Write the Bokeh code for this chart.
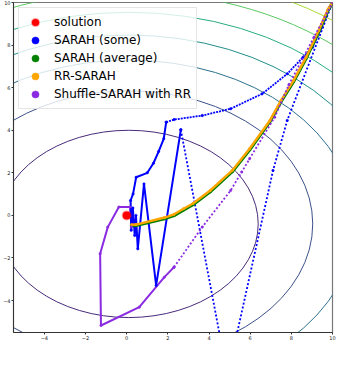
from bokeh.plotting import figure
from bokeh.models import Legend, LegendItem, Range1d, FixedTicker
from bokeh.embed import file_html
from bokeh.resources import INLINE

# ---------------- data ----------------
x_ticks = [-4, -2, 0, 2, 4, 6, 8, 10]
x_tick_labels = ["\u22124", "\u22122", "0", "2", "4", "6", "8", "10"]
y_ticks = [-4, -2, 0, 2, 4, 6, 8, 10]
y_tick_labels = ["\u22124", "\u22122", "0", "2", "4", "6", "8", "10"]

# contour ellipses (centre, half-axes) of the objective
contour_cx = [0.1, 0.1, 0.1, 0.1, 0.1, 0.1, 0.1]
contour_cy = [-0.4, -0.4, -0.4, -0.4, -0.4, -0.4, -0.4]
contour_half_w = [6.29, 8.94, 11.0, 12.7, 14.2, 15.6, 16.9]
contour_half_h = [4.4, 6.25, 7.7, 8.87, 9.94, 10.9, 11.8]
contour_colors = ["#472B7A", "#3B518A", "#2C718E", "#208F8C", "#27AD80", "#5BC862", "#AADB32"]

solution_x = [0.0]
solution_y = [0.0]

# SARAH (some): dense (solid) part
sarah_some_x = [1.92, 1.80, 1.55, 1.30, 1.00, 0.46, 0.31, 0.19, 0.22, 0.30, 0.39, 0.45, 0.54, 0.84, 1.43, 2.63]
sarah_some_y = [4.38, 3.60, 3.00, 2.45, 2.00, 1.79, 1.01, 0.70, -0.70, 0.35, -0.94, 0.00, -1.57, 1.48, -3.29, 4.02]
# SARAH (some): sparse (dotted) parts
sarah_some_jump_x = [2.63, 4.51, 4.90, 5.36, 7.11, 7.80, 10.0]
sarah_some_jump_y = [4.02, -5.56, -7.55, -5.55, 2.11, 4.46, 10.0]
sarah_some_arc_x = [1.92, 2.30, 3.67, 5.05, 6.58, 7.80, 8.57, 9.03, 9.49, 9.87, 10.0]
sarah_some_arc_y = [4.38, 4.50, 4.69, 5.01, 5.71, 6.65, 7.43, 7.90, 8.84, 9.78, 10.0]

# SARAH (average)
sarah_avg_x = [0.23, 0.46, 1.84, 2.30, 2.76, 3.22, 4.06, 5.13, 5.97, 6.96, 7.50, 8.11, 8.72, 9.33, 9.79, 10.0]
sarah_avg_y = [-0.49, -0.48, -0.16, -0.01, 0.25, 0.50, 1.11, 2.05, 3.07, 4.40, 5.34, 6.28, 7.37, 8.62, 9.64, 10.0]

# RR-SARAH
rr_sarah_x = [0.23, 0.46, 1.84, 2.30, 2.76, 3.22, 4.06, 5.13, 5.97, 6.96, 7.50, 8.11, 8.72, 9.33, 9.79, 10.0]
rr_sarah_y = [-0.44, -0.43, -0.10, 0.05, 0.31, 0.56, 1.17, 2.11, 3.13, 4.46, 5.40, 6.34, 7.43, 8.68, 9.70, 10.0]

# Shuffle-SARAH with RR
shuffle_x = [0.23, 0.16, -0.38, -0.92, -1.29, -1.25, 0.61, 1.83, 2.30]
shuffle_y = [-0.55, 0.39, 0.39, -0.55, -1.80, -5.17, -4.31, -2.90, -2.43]
shuffle_far_x = [2.30, 3.67, 5.05, 5.59, 5.97, 7.19, 7.88, 9.10, 10.0]
shuffle_far_y = [-2.43, -0.55, 1.17, 2.04, 2.66, 4.61, 6.14, 8.37, 10.0]

series_names = ["solution", "SARAH (some)", "SARAH (average)", "RR-SARAH", "Shuffle-SARAH with RR"]
series_colors = ["red", "blue", "green", "orange", "blueviolet"]

# ---------------- figure ----------------
p = figure(width=336, height=358, x_range=Range1d(-5.5, 10), y_range=Range1d(-5.5, 10),
           output_backend="svg", toolbar_location=None,
           min_border_left=10, min_border_right=4, min_border_top=2, min_border_bottom=26)
p.background_fill_color = "white"
p.border_fill_color = "white"
p.grid.visible = False
p.outline_line_color = "#777777"
p.outline_line_width = 1.2

for ax, ticks, labels in ((p.xaxis, x_ticks, x_tick_labels), (p.yaxis, y_ticks, y_tick_labels)):
    ax.ticker = FixedTicker(ticks=ticks)
    ax.major_label_overrides = {t: l for t, l in zip(ticks, labels)}
    ax.major_label_text_font = "DejaVu Sans"
    ax.major_label_text_font_size = "5px"
    ax.major_label_text_color = "#222222"
    ax.major_label_standoff = 1
    ax.major_tick_out = 2
    ax.major_tick_in = 0
    ax.minor_tick_out = 0
    ax.minor_tick_in = 0
    ax.axis_line_color = "#333333"
    ax.major_tick_line_color = "#333333"

# contours
p.ellipse(x=contour_cx, y=contour_cy,
          width=[2 * w for w in contour_half_w], height=[2 * h for h in contour_half_h],
          fill_color=None, line_color=contour_colors, line_width=1)

# Shuffle-SARAH with RR (dense part)
p.line(shuffle_x, shuffle_y, line_color="blueviolet", line_width=2)

# SARAH (some)
p.line(sarah_some_jump_x, sarah_some_jump_y, line_color="blue", line_width=1.8, line_dash="2 2")
p.line(sarah_some_arc_x, sarah_some_arc_y, line_color="blue", line_width=1.8, line_dash="2 1")
p.line(sarah_some_x, sarah_some_y, line_color="blue", line_width=2)
r_some = p.scatter(sarah_some_x + sarah_some_jump_x + sarah_some_arc_x,
                   sarah_some_y + sarah_some_jump_y + sarah_some_arc_y, size=2.5,
                   fill_color="blue", line_color="blue", line_alpha=0.4, line_width=1)

# SARAH (average)
p.line(sarah_avg_x, sarah_avg_y, line_color="green", line_width=3.0)
r_avg = p.scatter(sarah_avg_x, sarah_avg_y, size=2.5, fill_color="green", line_color="green",
                  line_alpha=0.4, line_width=1)

# RR-SARAH
p.line(rr_sarah_x, rr_sarah_y, line_color="orange", line_width=2.4)
r_rr = p.scatter(rr_sarah_x, rr_sarah_y, size=2.5, fill_color="orange", line_color="orange",
                 line_alpha=0.4, line_width=1)

# Shuffle-SARAH with RR (sparse part, drawn on top)
p.line(shuffle_far_x, shuffle_far_y, line_color="blueviolet", line_width=1.8, line_dash="2 2")
r_shuffle = p.scatter(shuffle_x + shuffle_far_x, shuffle_y + shuffle_far_y, size=2.5,
                      fill_color="blueviolet", line_color="blueviolet", line_alpha=0.4, line_width=1)

# solution
r_sol = p.scatter(solution_x, solution_y, size=8, fill_color="red", line_color="red",
                  line_alpha=0.35, line_width=2)

legend = Legend(items=[LegendItem(label=n, renderers=[r]) for n, r in
                       zip(series_names, [r_sol, r_some, r_avg, r_rr, r_shuffle])],
                location="top_left", margin=5, padding=5, spacing=0,
                glyph_height=18, glyph_width=22, label_height=18, label_standoff=8,
                label_text_font="DejaVu Sans", label_text_font_size="12px",
                label_text_color="black", border_line_color="#cccccc", border_line_width=1,
                background_fill_color="white", background_fill_alpha=0.8)
p.add_layout(legend)

open("out.html", "w").write(file_html(p, INLINE))
